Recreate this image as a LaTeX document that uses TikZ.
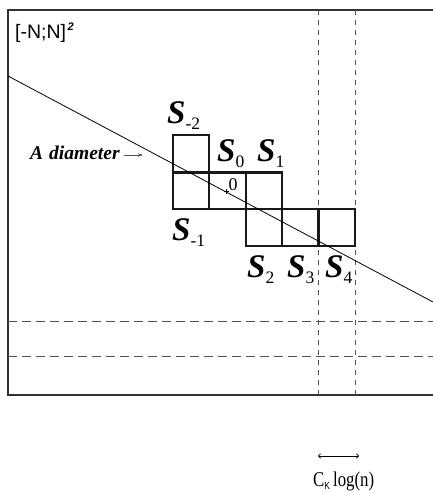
\documentclass[tikz,border=0pt]{standalone}
\usepackage{fontspec}
\setmainfont{Liberation Serif}
\newfontfamily\arialf{Liberation Sans}
\usetikzlibrary{arrows.meta,calc}
\newcommand\Slab[1]{{\fontsize{33}{33}\selectfont\bfseries\itshape S}\raisebox{-6pt}{\fontsize{17.5}{17.5}\selectfont #1}}
\definecolor{framegray}{RGB}{50,50,50}
\definecolor{dashgray}{RGB}{80,80,80}
\tikzset{
  cell/.style={draw=black!90, line width=2.1pt, minimum size=36.6pt, inner sep=0pt, shape=rectangle},
  slabel/.style={anchor=base west, inner sep=0pt},
  vdash/.style={draw=dashgray, line width=0.9pt, dash pattern=on 5pt off 5pt},
  hdash/.style={draw=dashgray, line width=0.9pt, dash pattern=on 9pt off 5pt},
}
\begin{document}
\begin{tikzpicture}[x=1pt,y=-1pt]
\useasboundingbox (0,0) rectangle (433,493);
% frame
\coordinate (tr) at (440,10);
\coordinate (tl) at (8,10);
\coordinate (bl) at (8,395);
\coordinate (br) at (440,395);
\begin{scope}
\clip (0,0) rectangle (433,493);
\draw[draw=framegray, line width=1.4pt] (tr) -- (tl) -- (bl) -- (br);
\end{scope}
% dashed lines
\coordinate (v1t) at (318.3,10); \coordinate (v1b) at (318.3,395);
\coordinate (v2t) at (355,10); \coordinate (v2b) at (355,395);
\coordinate (h1l) at (8,321); \coordinate (h1r) at (433,321);
\coordinate (h2l) at (8,356); \coordinate (h2r) at (433,356);
\draw[vdash] (v1t) -- (v1b);
\draw[vdash] (v2t) -- (v2b);
\draw[hdash] (h1l) -- (h1r);
\draw[hdash] (h2l) -- (h2r);
% squares
\node[cell] (sm2) at (191,153.6) {};
\node[cell] (sm1) at (191,190.8) {};
\node[cell] (s0) at (227.5,190.8) {};
\node[cell] (s1) at (264,190.8) {};
\node[cell] (s2) at (264,227.7) {};
\node[cell] (s3) at (300.5,227.7) {};
\node[cell] (s4) at (336.7,227.7) {};
% diameter
\coordinate (d1) at (8,76);
\coordinate (d2) at (433,302);
\draw[line width=0.8pt] (d1) -- (d2);
% origin
\coordinate (o) at (226,191.5);
\draw[line width=0.6pt] ($(o)+(-2.5,0)$) -- ($(o)+(2.5,0)$);
\draw[line width=0.6pt] ($(o)+(0,-2.5)$) -- ($(o)+(0,2.5)$);
\node[anchor=base west, inner sep=0pt, font=\fontsize{18}{18}\selectfont] (olab) at (228.5,190) {0};
% labels
\node[slabel] (lm2) at (167,123) {\Slab{-2}};
\node[slabel] (l0) at (217,161) {\Slab{0}};
\node[slabel] (l1) at (257,161) {\Slab{1}};
\node[slabel] (lm1) at (172,240) {\Slab{-1}};
\node[slabel] (l2) at (247,277) {\Slab{2}};
\node[slabel] (l3) at (287,277) {\Slab{3}};
\node[slabel] (l4) at (325,277) {\Slab{4}};
% A diameter
\node[anchor=base west, inner sep=0pt, font=\fontsize{19.5}{19.5}\selectfont\bfseries\itshape] (adiam) at (30,159) {A\hspace{6pt}diameter};
\coordinate (aend) at (143,155);
\draw[draw=dashgray, line width=0.8pt, -{Stealth[length=5pt,width=3.5pt]}] (adiam.east |- aend) ++(4,0) coordinate (astart) -- (aend);
% title
\node[anchor=base west, inner sep=0pt, font=\arialf\fontsize{19.5}{19.5}\selectfont] (title) at (15,38) {[-N;N]\hspace{1.5pt}\raisebox{8pt}{\fontsize{11}{11}\selectfont\bfseries\itshape 2}};
% bottom scale
\coordinate (c1) at (318,456);
\coordinate (c2) at (359,456);
\draw[line width=0.7pt, {To[length=3pt,width=5pt]}-{To[length=3pt,width=5pt]}] (c1) -- (c2);
\node[anchor=base west, inner sep=0pt, xscale=0.8, font=\fontsize{21}{21}\selectfont] (clog) at (313,486.5) {C\raisebox{-3pt}{\arialf\fontsize{10.5}{10.5}\selectfont K}\hspace{4pt}log(n)};
\end{tikzpicture}
\end{document}
